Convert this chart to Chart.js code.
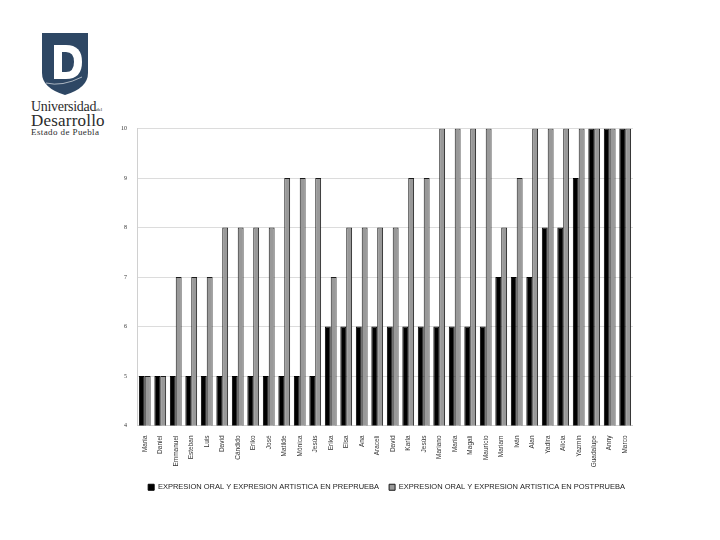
<!DOCTYPE html>
<html>
<head>
<meta charset="utf-8">
<script src="https://cdn.jsdelivr.net/npm/chart.js@4/dist/chart.umd.min.js"></script>
<style>
  body { margin: 0; background: #fff; width: 720px; height: 540px; position: relative; overflow: hidden; }
  #logo { position: absolute; left: 42px; top: 33px; }
  #marca { position: absolute; left: 31px; top: 100px; font-family: "Liberation Serif", serif; color: #2b2b2b; line-height: 1; }
  #marca .u { font-size: 14px; letter-spacing: -0.3px; }
  #marca .u small { font-size: 5px; letter-spacing: 0; }
  #marca .d { font-size: 17px; margin-top: -2px; letter-spacing: 0.2px; }
  #marca .e { font-size: 9px; margin-top: -1px; letter-spacing: 0.4px; }
  #wrap { position: absolute; left: 100px; top: 115px; width: 535px; height: 386px; }
</style>
</head>
<body>
<svg id="logo" width="48" height="62" viewBox="0 0 48 62">
  <path d="M0 0 H46 V40 Q46 55 23 62 Q0 55 0 40 Z" fill="#2e4764"/>
  <path d="M12 12 H24 Q40 12 40 29 Q40 46 24 46 H12 Z" fill="#fff"/>
  <path d="M20 19 H24 Q32 19 32 29 Q32 39 24 39 H20 Z" fill="#2e4764"/>
  <path d="M4 50 Q20 54 40 44" stroke="#ffffff" stroke-width="0.6" fill="none"/>
</svg>
<div id="marca">
  <div class="u">Universidad<small>del</small></div>
  <div class="d">Desarrollo</div>
  <div class="e">Estado de Puebla</div>
</div>
<div id="wrap"><canvas id="grafico"></canvas></div>
<script>
  var alumnos = ["María", "Daniel", "Emmanuel", "Esteban", "Luis", "David", "Cándido", "Eriko", "José", "Matilde",
    "Mónica", "Jesús", "Erika", "Elsa", "Ana", "Araceli", "David", "Karla", "Jesús", "Mariano",
    "María", "Magali", "Mauricio", "Mariam", "Iván", "Alan", "Yadira", "Alicia", "Yazmin", "Guadalupe",
    "Anny", "Marco"];
  var preprueba = [5, 5, 5, 5, 5, 5, 5, 5, 5, 5, 5, 5, 6, 6, 6, 6, 6, 6, 6, 6, 6, 6, 6, 7, 7, 7, 8, 8, 9, 10, 10, 10];
  var postprueba = [5, 5, 7, 7, 7, 8, 8, 8, 8, 9, 9, 9, 7, 8, 8, 8, 8, 9, 9, 10, 10, 10, 10, 8, 9, 10, 10, 10, 10, 10, 10, 10];
  var etiquetaPre = "EXPRESION ORAL Y EXPRESION ARTISTICA EN PREPRUEBA";
  var etiquetaPost = "EXPRESION ORAL Y EXPRESION ARTISTICA EN POSTPRUEBA";

  var ctx = document.getElementById("grafico").getContext("2d");

  new Chart(ctx, {
    type: "bar",
    data: {
      labels: alumnos,
      datasets: [{
        label: etiquetaPre,
        data: preprueba,
        backgroundColor: "#000000",
        borderColor: "#000000",
        borderWidth: 1
      }, {
        label: etiquetaPost,
        data: postprueba,
        backgroundColor: "#999999",
        borderColor: "#1a1a1a",
        borderWidth: 1
      }]
    },
    options: {
      responsive: true,
      maintainAspectRatio: false,
      animation: false,
      layout: { padding: { top: 3, right: 0, bottom: 0, left: 0 } },
      datasets: { bar: { categoryPercentage: 0.76, barPercentage: 1 } },
      plugins: {
        tooltip: { enabled: false },
        legend: {
          position: "bottom",
          align: "end",
          labels: {
            boxWidth: 6,
            boxHeight: 6,
            padding: 10,
            color: "#222",
            font: { family: "'Liberation Sans Narrow', 'Liberation Sans', sans-serif", size: 7.5 }
          }
        }
      },
      scales: {
        x: {
          grid: { display: false },
          border: { color: "#d0d0d0" },
          ticks: {
            autoSkip: false,
            maxRotation: 90,
            minRotation: 90,
            padding: 2,
            color: "#333",
            font: { family: "'Liberation Sans Narrow', 'Liberation Sans', sans-serif", size: 6.5 }
          },
          afterFit: function(scale) { scale.height = 48; }
        },
        y: {
          min: 4,
          max: 10,
          grid: { color: "#dcdcdc", drawTicks: false },
          border: { color: "#d0d0d0" },
          ticks: {
            stepSize: 1,
            padding: 10,
            color: "#333",
            font: { family: "'Liberation Serif', serif", size: 6 }
          },
          afterFit: function(scale) { scale.width = 37; }
        }
      }
    }
  });
</script>
</body>
</html>
